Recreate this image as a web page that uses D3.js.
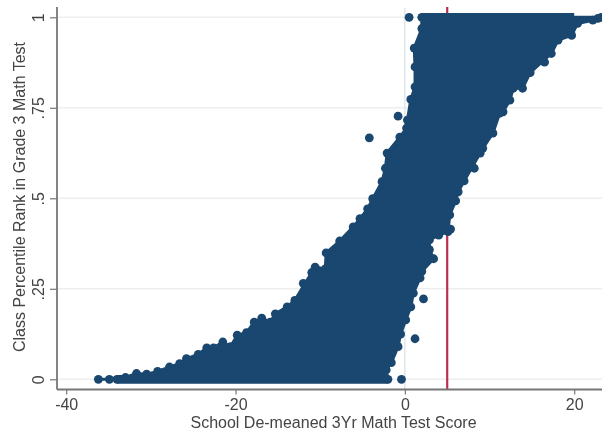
<!DOCTYPE html>
<html><head><meta charset="utf-8">
<script src="https://cdn.jsdelivr.net/npm/d3@7/dist/d3.min.js"></script>
<style>html,body{margin:0;padding:0;background:#fff}svg{display:block;filter:blur(0.45px)}text{font-family:"Liberation Sans",Arial,sans-serif;fill:#444}</style>
</head><body><div id="c"></div>
<script>
const upperEdge=[[-36.2,0],[-34.9,0],[-34,0],[-33,.005],[-31.7,.016],[-30.5,.014],[-29.2,.022],[-27.8,.034],[-26.6,.043],[-25.8,.057],[-24.4,.069],[-23.4,.087],[-22.6,.087],[-21.5,.103],[-20.6,.09],[-19.8,.122],[-18.7,.129],[-17.8,.158],[-16.9,.169],[-15.9,.158],[-15.3,.181],[-13.9,.2],[-13,.218],[-11,.295],[-10.6,.31],[-9.4,.305],[-9.3,.349],[-7.7,.382],[-6.1,.421],[-5.3,.444],[-4.4,.471],[-3.8,.499],[-2.7,.546],[-2.3,.583],[-2.1,.625],[-.6,.669],[.2,.694],[.3,.716],[.7,.773],[1.2,.808],[1.2,.863],[1.1,.915],[2,.969],[2,1]];
const lowerEdge=[[23.2,1],[22.8,.997],[22.2,.992],[20.4,.983],[19.7,.95],[18.1,.937],[17.3,.9],[14.8,.847],[13.9,.804],[12.8,.804],[12.4,.771],[11.6,.739],[11.2,.735],[10.4,.68],[9.2,.638],[8.9,.625],[7,.548],[6.3,.518],[6,.493],[5.3,.454],[5.1,.408],[4,.398],[2.9,.385],[2.9,.358],[3.4,.333],[2,.298],[1.8,.28],[1,.238],[.7,.2],[.1,.164],[-.5,.125],[-.8,.09],[-1.6,.046],[-2.2,.026],[-2,0]];
const outliers=[[16.5,.876],[8.2,.583],[5.4,.415],[5,.41],[2.2,.222],[1.2,.112],[-.4,0],[.5,1],[-4.2,.667],[-.8,.727],[-12,.265]];
const floorRun=[[-34,0],[-2,0]];
const ceilingRun=[[2,1],[20,1]];
const xTicks=[-40,-20,0,20];
const yTicks=[0,.25,.5,.75,1];
const yLabels=["0",".25",".5",".75","1"];
const refLine=5, zeroLine=0;
const xTitle="School De-meaned 3Yr Math Test Score";
const yTitle="Class Percentile Rank in Grade 3 Math Test";

const W=602,H=434,navy="#1a476f",axisC="#777";
const svg=d3.select("#c").append("svg").attr("width",W).attr("height",H);
const x=d3.scaleLinear().domain([-40,20]).range([66.2,574.2]);
const y=d3.scaleLinear().domain([0,1]).range([379.3,17.3]);
const axisX=57,axisY=389.5;
const line=d3.line().x(d=>x(d[0])).y(d=>y(d[1]));

svg.append("g").selectAll("line").data(yTicks).join("line")
 .attr("x1",axisX).attr("x2",W).attr("y1",d=>y(d)).attr("y2",d=>y(d)).attr("stroke","#eeeeee").attr("stroke-width",1.4);
svg.append("line").attr("x1",x(zeroLine)).attr("x2",x(zeroLine)).attr("y1",8).attr("y2",axisY).attr("stroke","#dbe5ec").attr("stroke-width",1.4);
svg.append("line").attr("x1",x(refLine)).attr("x2",x(refLine)).attr("y1",7).attr("y2",axisY).attr("stroke","#b8304f").attr("stroke-width",2.2);

const marks=svg.append("g").attr("fill",navy);
const poly=upperEdge.concat(lowerEdge);
marks.append("path").attr("d",line(poly)+"Z").attr("stroke",navy).attr("stroke-width",3).attr("stroke-linejoin","round");
[floorRun,ceilingRun].forEach(r=>marks.append("path").attr("d",line(r)).attr("fill","none").attr("stroke",navy).attr("stroke-width",8.8));
marks.selectAll("circle").data(upperEdge.concat(lowerEdge,outliers)).join("circle")
 .attr("cx",d=>x(d[0])).attr("cy",d=>y(d[1])).attr("r",4.4);

const ax=svg.append("g").attr("transform",`translate(0,${axisY})`)
 .call(d3.axisBottom(x).tickValues(xTicks).tickFormat(d=>d).tickSize(5).tickPadding(4));
ax.select(".domain").attr("d",`M${axisX},0H${W}`).attr("stroke",axisC).attr("stroke-width",1.8);
ax.selectAll(".tick line").attr("stroke",axisC).attr("stroke-width",1.2);
ax.selectAll("text").attr("font-size",16).attr("fill","#444").style("font-family",'"Liberation Sans"');

const ay=svg.append("g").attr("transform",`translate(${axisX},0)`)
 .call(d3.axisLeft(y).tickValues(yTicks).tickFormat((d,i)=>yLabels[i]).tickSize(7).tickPadding(6));
ay.select(".domain").attr("d",`M0,7V${axisY}`).attr("stroke",axisC).attr("stroke-width",1.8);
ay.selectAll(".tick line").attr("stroke",axisC).attr("stroke-width",1.2);
ay.selectAll("text").attr("font-size",16).attr("fill","#444").attr("text-anchor","middle").attr("dy",0)
 .attr("x",0).attr("y",0).attr("transform","translate(-19,0) rotate(-90)").attr("dominant-baseline","central");

svg.append("text").attr("x",333.5).attr("y",428).attr("text-anchor","middle").attr("font-size",16).text(xTitle);
svg.append("text").attr("transform","translate(25,197) rotate(-90)").attr("text-anchor","middle").attr("font-size",16).text(yTitle);
</script></body></html>
